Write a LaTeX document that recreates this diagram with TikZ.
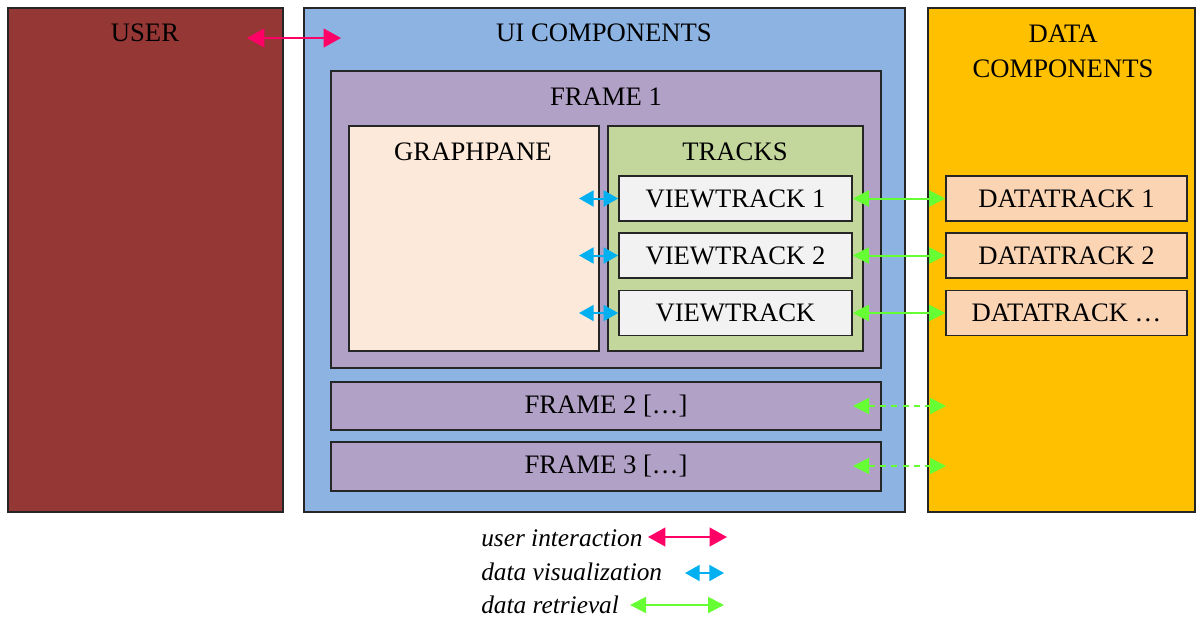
\documentclass[tikz,border=0pt]{standalone}
\usepackage{fontspec}
\setmainfont{Liberation Serif}
\usetikzlibrary{arrows.meta}

\definecolor{userred}{RGB}{149,55,53}
\definecolor{uiblue}{RGB}{141,179,226}
\definecolor{dataorange}{RGB}{255,192,0}
\definecolor{framepurple}{RGB}{178,161,199}
\definecolor{panepeach}{RGB}{253,233,217}
\definecolor{trackgreen}{RGB}{195,214,155}
\definecolor{viewgray}{RGB}{242,242,242}
\definecolor{datapeach}{RGB}{251,212,180}
\definecolor{interpink}{RGB}{255,0,102}
\definecolor{visblue}{RGB}{0,176,240}
\definecolor{retrgreen}{RGB}{102,255,51}

\tikzset{
	box/.style={draw=black!85, line width=1.2pt, inner sep=0pt},
	lbl/.style={font=\fontsize{20}{26}\selectfont, inner sep=0pt, align=center},
	keylbl/.style={font=\fontsize{19}{23}\selectfont\itshape, inner sep=0pt, anchor=west},
	interact/.style={interpink, line width=1.5pt, arrows={Triangle[length=13pt,width=14pt]-Triangle[length=13pt,width=14pt]}},
	visual/.style={visblue, line width=1.5pt, arrows={Triangle[length=11pt,width=12pt]-Triangle[length=11pt,width=12pt]}},
	retrieve/.style={retrgreen, line width=1.5pt, arrows={Triangle[length=12pt,width=12pt]-Triangle[length=12pt,width=12pt]}}
}

\begin{document}
\begin{tikzpicture}[x=0.75pt,y=-0.75pt]

		\useasboundingbox (0,0) rectangle (1196,619);

		% outer columns
		\node[box, fill=userred, minimum width=206.25pt, minimum height=378pt] (user) at (145.5,260) {};
		\node[box, fill=uiblue, minimum width=450.75pt, minimum height=378pt] (ui) at (604.5,260) {};
		\node[box, fill=dataorange, minimum width=200.25pt, minimum height=378pt] (data) at (1061.5,260) {};

		\node[lbl] (userlbl) at (145,33) {USER};
		\node[lbl] (uilbl) at (604,33) {UI COMPONENTS};
		\node[lbl] (datalbl) at (1063,51) {DATA\\COMPONENTS};

		% frames
		\node[box, fill=framepurple, minimum width=412.5pt, minimum height=222.75pt] (frameA) at (606,219.5) {};
		\node[box, fill=framepurple, minimum width=412.5pt, minimum height=36pt] (frameB) at (606,406) {};
		\node[box, fill=framepurple, minimum width=412.5pt, minimum height=36.75pt] (frameC) at (606,466.5) {};

		\node[lbl] (frameAlbl) at (606,97) {FRAME 1};
		\node[lbl] at (frameB) {FRAME 2 [\dots]};
		\node[lbl] at (frameC) {FRAME 3 [\dots]};

		\node[box, fill=panepeach, minimum width=187.5pt, minimum height=168.75pt] (pane) at (474,238.5) {};
		\node[box, fill=trackgreen, minimum width=191.25pt, minimum height=168.75pt] (tracks) at (735.5,238.5) {};

		\node[lbl] (panelbl) at (473,152) {GRAPHPANE};
		\node[lbl] (trackslbl) at (735,152) {TRACKS};

		% tracks
		\node[box, fill=viewgray, lbl, minimum width=174.75pt, minimum height=33.75pt] (vtA) at (735.5,198.5) {VIEWTRACK 1};
		\node[box, fill=viewgray, lbl, minimum width=174.75pt, minimum height=33.75pt] (vtB) at (735.5,255.5) {VIEWTRACK 2};
		\node[box, fill=viewgray, lbl, minimum width=174.75pt, minimum height=33.75pt] (vtC) at (735.5,313) {VIEWTRACK};

		\node[box, fill=datapeach, lbl, minimum width=180.75pt, minimum height=33.75pt] (dtA) at (1066.5,198.5) {DATATRACK 1};
		\node[box, fill=datapeach, lbl, minimum width=180.75pt, minimum height=33.75pt] (dtB) at (1066.5,255.5) {DATATRACK 2};
		\node[box, fill=datapeach, lbl, minimum width=180.75pt, minimum height=33.75pt] (dtC) at (1066.5,313) {DATATRACK \dots};

		% arrow ends
		\coordinate (userend) at (247,38);
		\coordinate (uiend) at (341,38);
		\coordinate (paneA) at (579,198.5);
		\coordinate (paneB) at (579,255.5);
		\coordinate (paneC) at (579,313);
		\coordinate (frameBend) at (853,406);
		\coordinate (frameCend) at (853,466);
		\coordinate (dataB) at (946,406);
		\coordinate (dataC) at (946,466);

		\draw [interact] (userend) -- (uiend);

		\draw [visual] (paneA) -- (vtA.west);
		\draw [visual] (paneB) -- (vtB.west);
		\draw [visual] (paneC) -- (vtC.west);

		\draw [retrieve] (vtA.east) -- (dtA.west);
		\draw [retrieve] (vtB.east) -- (dtB.west);
		\draw [retrieve] (vtC.east) -- (dtC.west);
		\draw [retrieve, dash pattern=on 4.5pt off 4pt] (frameBend) -- (dataB);
		\draw [retrieve, dash pattern=on 4.5pt off 4pt] (frameCend) -- (dataC);

		% legend
		\node[keylbl] (keyA) at (481,538) {user interaction};
		\node[keylbl] (keyB) at (481,572) {data visualization};
		\node[keylbl] (keyC) at (481,605) {data retrieval};

		\coordinate (keyAa) at (648,537);
		\coordinate (keyAb) at (727,537);
		\coordinate (keyBa) at (685,573);
		\coordinate (keyBb) at (724,573);
		\coordinate (keyCa) at (630,605);
		\coordinate (keyCb) at (724,605);

		\draw [interact] (keyAa) -- (keyAb);
		\draw [visual] (keyBa) -- (keyBb);
		\draw [retrieve] (keyCa) -- (keyCb);
	\end{tikzpicture}
\end{document}
